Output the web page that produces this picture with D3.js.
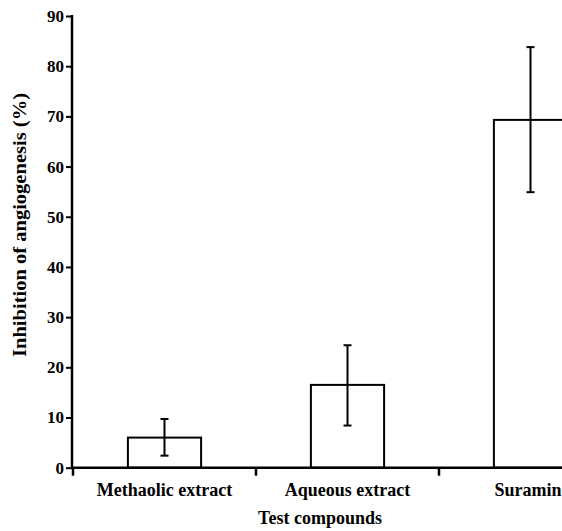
<!DOCTYPE html>
<html>
<head>
<meta charset="utf-8">
<script src="https://cdn.jsdelivr.net/npm/d3@7"></script>
<style>
  body { margin: 0; background: #fff; }
  svg { display: block; font-family: "Liberation Serif", "Times New Roman", serif; }
</style>
</head>
<body>
<svg id="chart" width="562" height="531"></svg>
<script>
// Inhibition of angiogenesis by test compounds
const categories = ["Methaolic extract", "Aqueous extract", "Suramin"];
const means = [6.0, 16.5, 69.3];
const errLow = [2.4, 8.4, 54.9];
const errHigh = [9.7, 24.4, 83.8];
const yTicks = [0, 10, 20, 30, 40, 50, 60, 70, 80, 90];

const data = categories.map((c, i) => ({
  name: c, mean: means[i], lo: errLow[i], hi: errHigh[i]
}));

const svg = d3.select("#chart");

// Scales
const x = d3.scaleBand()
  .domain(categories)
  .range([73, 622])
  .padding(0);

const y = d3.scaleLinear()
  .domain([0, 90])
  .range([467.7, 16]);

const barW = x.bandwidth() * 0.4;

// Bars
svg.append("g").selectAll("rect")
  .data(data)
  .enter().append("rect")
  .attr("x", d => x(d.name) + x.bandwidth() / 2 - barW / 2)
  .attr("y", d => y(d.mean))
  .attr("width", barW)
  .attr("height", d => y(0) - y(d.mean))
  .attr("fill", "#fff")
  .attr("stroke", "#000")
  .attr("stroke-width", 2);

// Error bars
const err = svg.append("g").attr("stroke", "#000").attr("stroke-width", 2);
data.forEach(d => {
  const cx = x(d.name) + x.bandwidth() / 2;
  err.append("line").attr("x1", cx).attr("x2", cx).attr("y1", y(d.lo)).attr("y2", y(d.hi));
  err.append("line").attr("x1", cx - 4).attr("x2", cx + 4).attr("y1", y(d.lo)).attr("y2", y(d.lo));
  err.append("line").attr("x1", cx - 4).attr("x2", cx + 4).attr("y1", y(d.hi)).attr("y2", y(d.hi));
});

// Y axis
const yAxis = svg.append("g")
  .attr("transform", "translate(72,0)")
  .call(d3.axisLeft(y).tickValues(yTicks).tickSize(6).tickPadding(2).tickSizeOuter(0));
yAxis.select(".domain").attr("stroke-width", 2.5).attr("d", `M0,${y(0) + 1}V${y(90) - 1}`);
yAxis.selectAll(".tick line").attr("stroke-width", 2);
yAxis.selectAll(".tick text")
  .attr("font-family", "Liberation Serif, serif")
  .attr("font-size", 17)
  .attr("font-weight", "bold")
  .attr("fill", "#000");

// X axis
const xAxis = svg.append("g").attr("transform", `translate(0,${y(0)})`);
xAxis.append("line")
  .attr("x1", 72).attr("x2", 562)
  .attr("stroke", "#000").attr("stroke-width", 2.5);
const bounds = [x.range()[0]].concat(categories.slice(1).map(c => x(c)));
xAxis.selectAll(".xtick")
  .data(bounds)
  .enter().append("line")
  .attr("x1", d => d).attr("x2", d => d)
  .attr("y1", 0).attr("y2", 8)
  .attr("stroke", "#000").attr("stroke-width", 2.5);
xAxis.selectAll(".xlab")
  .data(categories)
  .enter().append("text")
  .attr("x", d => Math.min(x(d) + x.bandwidth() / 2, 528))
  .attr("y", 28)
  .attr("text-anchor", "middle")
  .attr("font-size", 18)
  .attr("font-weight", "bold")
  .text(d => d);

// Axis titles
svg.append("text")
  .attr("x", 320).attr("y", 524)
  .attr("text-anchor", "middle")
  .attr("font-size", 18)
  .attr("font-weight", "bold")
  .text("Test compounds");

svg.append("text")
  .attr("transform", "translate(26,225) rotate(-90)")
  .attr("text-anchor", "middle")
  .attr("font-size", 18)
  .attr("font-weight", "bold")
  .attr("textLength", 264)
  .attr("lengthAdjust", "spacingAndGlyphs")
  .text("Inhibition of angiogenesis (%)");
</script>
</body>
</html>
